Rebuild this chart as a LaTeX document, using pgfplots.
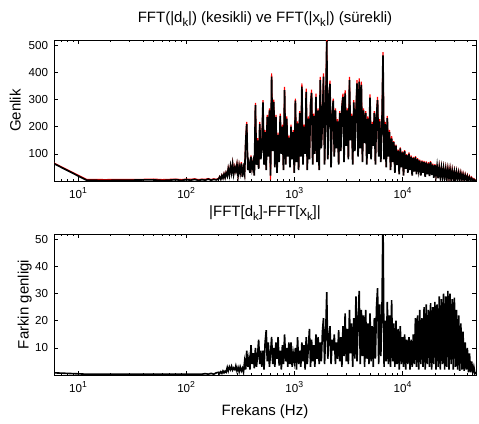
\documentclass[border=0pt]{standalone}
\usepackage{fontspec}
\setmainfont{Liberation Sans}
\usepackage{pgfplots}
\usepackage{pgfplotstable}
\pgfplotsset{compat=1.18}

\pgfplotstableread{
f d x b
6 66 64 0.8
12 6 3 0.3
18 5 2 0.3
24 6 3 0.3
30 6 3 0.3
40 6 4 0.3
50 7 4 0.3
60 5 2 0.3
70 6 3 0.3
80 7 5 0.3
90 5 2 0.3
100 7 5 0.3
110 6 3 0.3
120 8 6 0.3
130 5 2 0.3
140 7 5 0.3
150 6 3 0.5
160 9 7 0.3
170 5 3 0.6
180 8 6 0.3
190 6 4 0.8
200 10 8 1.0
204 17 15 0.5
209 8 6 1.2
214 22 20 0.6
219 12 10 1.5
224 27 25 0.8
229 14 12 1.4
234 32 30 1.0
240 20 18 2.8
245 47 45 1.5
251 24 22 3.0
257 57 55 2.0
263 32 30 3.2
269 66 62 1.8
275 27 25 2.6
282 54 50 2.0
288 37 35 3.4
295 64 60 1.5
302 22 20 2.8
309 59 55 1.2
316 32 30 3.0
324 69 65 1.5
331 17 15 2.5
339 50 48 1.0
347 27 25 5.0
355 144 140 2.0
363 218 210 9.0
372 42 40 3.0
380 69 65 6.0
389 32 30 2.0
398 94 90 11.0
407 47 45 4.0
417 74 70 8.0
427 22 20 2.5
437 288 280 10.0
447 64 60 3.0
457 158 150 7.0
468 47 45 13.0
479 218 210 4.0
490 84 80 9.0
501 124 120 3.0
513 298 290 9.0
525 64 60 2.0
537 188 180 12.0
550 42 40 16.5
562 244 236 5.0
575 94 90 12.0
589 268 260 3.0
603 5 20 8.0
617 397 385 14.0
631 114 110 4.0
646 300 292 10.0
661 54 50 3.0
676 244 236 12.0
692 32 30 6.0
708 178 170 14.0
724 74 70 3.5
741 248 240 9.0
759 104 100 2.0
776 208 200 11.0
794 42 40 4.0
813 347 335 15.0
832 64 60 5.0
851 238 230 10.0
871 94 90 3.0
891 168 160 12.0
912 52 50 4.0
933 208 200 12.0
955 84 80 3.0
977 188 180 8.0
1000 32 30 5.0
1023 304 296 10.0
1047 74 70 2.0
1072 220 212 14.0
1096 42 40 4.0
1122 258 250 9.0
1148 94 90 3.0
1175 360 348 12.0
1202 64 60 5.0
1230 208 200 11.0
1259 104 100 2.0
1288 341 329 14.0
1318 42 40 4.0
1349 238 230 10.0
1380 84 80 17.0
1413 288 280 3.0
1445 337 325 13.0
1479 64 60 5.0
1514 248 240 11.0
1549 104 100 3.0
1585 322 310 15.0
1622 74 70 6.0
1660 268 260 14.0
1698 42 40 4.0
1738 384 372 12.0
1778 124 120 5.0
1820 228 220 16.0
1862 397 385 21.0
1905 64 60 4.0
1950 258 250 15.0
1995 530 515 30.6
2042 84 80 6.0
2089 308 300 14.0
2138 370 358 18.0
2188 52 50 4.0
2239 248 240 13.0
2291 304 296 9.0
2344 94 90 15.0
2399 268 260 4.0
2455 124 120 12.0
2512 228 220 6.0
2570 64 60 16.5
2630 258 250 5.0
2692 114 110 14.0
2754 278 270 3.0
2818 322 310 18.0
2884 74 70 7.0
2951 335 323 22.7
3020 134 130 5.0
3090 268 260 17.0
3162 84 80 4.0
3236 384 372 24.0
3311 154 150 8.0
3388 248 240 19.0
3467 64 60 3.0
3548 298 290 21.0
3631 114 110 6.0
3715 258 250 29.0
3802 372 360 5.0
3890 94 90 20.0
3981 378 366 31.0
4074 124 120 4.0
4169 366 354 24.0
4266 74 70 7.0
4365 268 260 22.0
4467 144 140 3.0
4571 258 250 24.0
4677 64 60 6.0
4786 238 230 19.0
4898 104 100 4.0
5012 319 307 22.7
5129 84 80 5.0
5248 218 210 18.0
5370 134 130 3.0
5495 258 250 21.0
5623 64 60 6.0
5754 248 240 25.0
5888 310 298 32.0
6026 94 90 4.0
6166 228 220 26.0
6310 74 70 7.0
6457 208 200 22.0
6607 475 463 60.0
6761 84 80 3.0
6918 218 210 20.0
7079 52 50 5.0
7244 240 232 27.0
7413 94 90 4.0
7586 188 180 22.0
7762 42 40 3.0
7943 165 157 27.6
8128 74 70 5.0
8318 147 143 19.0
8511 32 30 3.0
8710 134 130 20.0
8913 64 60 4.0
9120 116 112 17.0
9333 27 25 2.0
9550 124 120 18.0
9772 54 50 4.0
10000 109 105 14.0
10230 22 20 3.0
10470 114 110 15.0
10720 47 45 2.0
10960 99 95 13.0
11220 32 30 4.0
11480 105 101 14.0
11750 42 40 2.0
12020 94 90 13.0
12300 22 20 3.0
12590 89 85 15.0
12880 37 35 4.0
13180 92 88 21.0
13490 27 25 3.0
13800 84 80 22.0
14130 42 40 2.0
14450 79 75 24.0
14790 22 20 4.0
15140 76 72 21.0
15490 32 30 3.0
15850 74 70 25.0
16220 17 15 2.0
16600 72 68 26.0
16980 27 25 4.0
17380 69 65 24.0
17780 20 18 3.0
18200 73 69 26.5
18620 24 22 2.0
19050 64 60 25.0
19500 14 12 4.0
19950 62 58 27.0
20420 22 20 2.0
20890 59 55 26.0
21380 12 10 3.0
21880 54 50 29.0
22390 17 15 2.0
22910 52 48 28.0
23440 10 8 4.0
23990 50 46 30.0
24550 14 12 2.0
25120 48 44 29.0
25700 8 6 3.0
26300 47 43 31.0
26920 12 10 2.0
27540 46 42 30.0
28180 7 5 4.0
28840 42 38 28.0
29510 10 8 2.0
30200 39 35 28.5
30900 7 5 3.0
31620 37 33 24.0
32360 8 6 2.0
33110 34 30 22.0
33880 6 4 1.5
34670 32 28 19.0
35480 7 5 2.0
36310 28 24 16.0
37150 5 3 1.5
38020 25 21 12.0
38900 6 4 2.0
39810 22 18 10.0
40740 5 3 1.0
41690 18 14 8.0
42660 4 2 1.0
43650 14 10 5.0
44670 4 2 1.0
45710 9 6 3.0
46770 3 1 0.5
47860 4 2 1.0
}\spec

\newcommand{\sub}[1]{\raisebox{-0.5ex}{\fontsize{8.5}{9}\selectfont #1}}
\newcommand{\dec}[1]{10\raisebox{0.75ex}{\fontsize{6.5}{7}\selectfont #1}}

\pgfplotsset{
  myax/.style={
    scale only axis,
    width=316.5pt, height=105.75pt,
    anchor=south west,
    xmin=6, xmax=47860,
    xtick={10,100,1000,10000},
    xticklabels={\dec{1},\dec{2},\dec{3},\dec{4}},
    minor xtick={7,8,9,20,30,40,50,60,70,80,90,200,300,400,500,600,700,800,900,2000,3000,4000,5000,6000,7000,8000,9000,20000,30000,40000},
    tick align=inside,
    major tick length=3pt, minor tick length=1.6pt,
    axis line style={line width=0.6pt},
    every tick/.style={black, line width=0.5pt},
    /pgf/number format/assume math mode=true,
    ticklabel style={font=\fontsize{8.7}{10}\selectfont},
    xticklabel style={anchor=base, yshift=-13.1pt},
    yticklabel style={anchor=east, xshift=-1pt},
    title style={font=\fontsize{11.25}{13}\selectfont, at={(axis description cs:0.5,1)}, anchor=base, yshift=7pt},
    label style={font=\fontsize{11.25}{13}\selectfont},
    clip=true,
  }
}

\begin{document}
\begin{tikzpicture}
\path[use as bounding box] (0,0) rectangle (359.25pt,318pt);

\begin{axis}[xmode=log, myax,
  at={(40.5pt,182.25pt)},
  ymin=0, ymax=520,
  ytick={100,200,300,400,500},
  title={FFT(|d\sub{k}|) (kesikli) ve FFT(|x\sub{k}|) (sürekli)},
  ylabel={Genlik},
  ylabel style={at={(axis description cs:-0.079,0.5)}, anchor=base},
]
\addplot[red, line width=0.9pt] table[x=f, y=d] {\spec};
\addplot[black, line width=1.25pt] table[x=f, y=x] {\spec};
\end{axis}

\begin{axis}[xmode=log, myax,
  at={(40.5pt,36.75pt)},
  ymin=0, ymax=52,
  ytick={10,20,30,40,50},
  title={|FFT[d\sub{k}]-FFT[x\sub{k}]|},
  ylabel={Farkin genligi},
  ylabel style={at={(axis description cs:-0.0604,0.5)}, anchor=base},
  xlabel={Frekans (Hz)},
  xlabel style={at={(axis description cs:0.5,0)}, anchor=base, yshift=-30.75pt},
]
\addplot[black, line width=1.2pt] table[x=f, y=b] {\spec};
\end{axis}
\end{tikzpicture}
\end{document}
